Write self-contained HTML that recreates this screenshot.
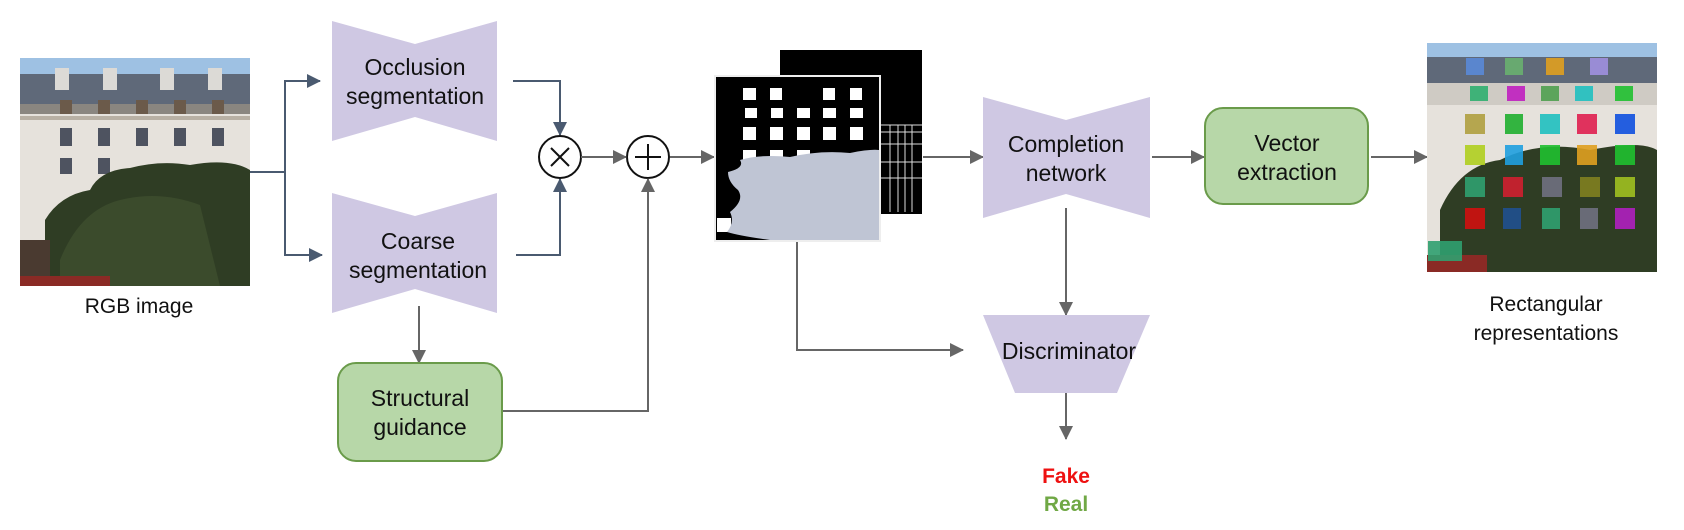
<!DOCTYPE html>
<html><head><meta charset="utf-8"><style>
html,body{margin:0;padding:0;background:#fff;}
svg{display:block;}
text{font-family:"Liberation Sans",Arial,sans-serif;}
</style></head><body>
<svg width="1684" height="530" viewBox="0 0 1684 530" xmlns="http://www.w3.org/2000/svg">
<defs>
<marker id="ab" markerWidth="14" markerHeight="14" refX="13" refY="7" orient="auto" markerUnits="userSpaceOnUse"><path d="M0,0 L14,7 L0,14 z" fill="#4a5a70"/></marker>
<marker id="ag" markerWidth="14" markerHeight="14" refX="13" refY="7" orient="auto" markerUnits="userSpaceOnUse"><path d="M0,0 L14,7 L0,14 z" fill="#666"/></marker>
</defs>

<!-- RGB image -->
<g>
<rect x="20" y="58" width="230" height="228" fill="#e6e2dc"/>
<rect x="20" y="58" width="230" height="18" fill="#9ec1e3"/>
<rect x="20" y="74" width="230" height="32" fill="#5f6979"/>
<g fill="#dcdad6"><rect x="55" y="68" width="14" height="22"/><rect x="103" y="68" width="14" height="22"/><rect x="160" y="68" width="14" height="22"/><rect x="208" y="68" width="14" height="22"/></g>
<rect x="20" y="104" width="230" height="10" fill="#8a8680"/>
<g fill="#6b5a4a"><rect x="60" y="100" width="12" height="14"/><rect x="98" y="100" width="12" height="14"/><rect x="136" y="100" width="12" height="14"/><rect x="174" y="100" width="12" height="14"/><rect x="212" y="100" width="12" height="14"/></g>
<rect x="20" y="116" width="230" height="4" fill="#b8b0a4"/>
<g fill="#4e5360"><rect x="60" y="128" width="12" height="18"/><rect x="98" y="128" width="12" height="18"/><rect x="136" y="128" width="12" height="18"/><rect x="174" y="128" width="12" height="18"/><rect x="212" y="128" width="12" height="18"/>
<rect x="60" y="158" width="12" height="16"/><rect x="98" y="158" width="12" height="16"/></g>
<path d="M45,286 L45,220 Q60,195 90,190 Q100,170 130,168 Q160,160 190,165 Q230,158 250,170 L250,286 Z" fill="#2f3d24"/>
<path d="M60,260 Q80,210 120,200 Q160,190 200,205 L220,286 L60,286Z" fill="#3b4b2c"/>
<rect x="20" y="240" width="30" height="46" fill="#4a3a30"/>
<rect x="20" y="276" width="90" height="10" fill="#8a2a25"/>
</g>
<text x="139" y="313" font-size="21" text-anchor="middle" fill="#111">RGB image</text>

<!-- connectors first stage -->
<g stroke="#4a5a70" stroke-width="2" fill="none">
<polyline points="250,172 285,172 285,81 320,81" marker-end="url(#ab)"/>
<polyline points="285,172 285,255 322,255" marker-end="url(#ab)"/>
<polyline points="513,81 560,81 560,135" marker-end="url(#ab)"/>
<polyline points="516,255 560,255 560,179" marker-end="url(#ab)"/>
</g>

<!-- bowties -->
<polygon points="332,21 415,44 497,21 497,141 415,117 332,141" fill="#cfc8e3"/>
<text x="415" y="75" font-size="23" text-anchor="middle" fill="#111">Occlusion</text>
<text x="415" y="104" font-size="23" text-anchor="middle" fill="#111">segmentation</text>
<polygon points="332,193 415,216 497,193 497,313 415,289 332,313" fill="#cfc8e3"/>
<text x="418" y="249" font-size="23" text-anchor="middle" fill="#111">Coarse</text>
<text x="418" y="278" font-size="23" text-anchor="middle" fill="#111">segmentation</text>

<!-- circles -->
<circle cx="560" cy="157" r="21" fill="#fff" stroke="#111" stroke-width="2"/>
<path d="M551,148 L569,166 M569,148 L551,166" stroke="#111" stroke-width="2"/>
<circle cx="648" cy="157" r="21" fill="#fff" stroke="#111" stroke-width="2"/>
<path d="M648,144 L648,170 M635,157 L661,157" stroke="#111" stroke-width="2"/>

<g stroke="#666" stroke-width="2" fill="none">
<line x1="581" y1="157" x2="626" y2="157" marker-end="url(#ag)"/>
<line x1="670" y1="157" x2="714" y2="157" marker-end="url(#ag)"/>
<line x1="419" y1="306" x2="419" y2="363" marker-end="url(#ag)"/>
<polyline points="502,411 648,411 648,179" marker-end="url(#ag)"/>
<polyline points="797,240 797,350 963,350" marker-end="url(#ag)"/>
<line x1="923" y1="157" x2="983" y2="157" marker-end="url(#ag)"/>
<line x1="1152" y1="157" x2="1204" y2="157" marker-end="url(#ag)"/>
<line x1="1371" y1="157" x2="1427" y2="157" marker-end="url(#ag)"/>
<line x1="1066" y1="208" x2="1066" y2="315" marker-end="url(#ag)"/>
<line x1="1066" y1="393" x2="1066" y2="439" marker-end="url(#ag)"/>
</g>

<!-- structural guidance -->
<rect x="338" y="363" width="164" height="98" rx="18" fill="#b7d7a8" stroke="#6a9b4a" stroke-width="2"/>
<text x="420" y="406" font-size="23" text-anchor="middle" fill="#111">Structural</text>
<text x="420" y="435" font-size="23" text-anchor="middle" fill="#111">guidance</text>

<!-- masks -->
<rect x="780" y="50" width="142" height="164" fill="#000"/>
<g stroke="#ddd" stroke-width="1">
<line x1="880" y1="125" x2="922" y2="125"/><line x1="880" y1="132" x2="922" y2="132"/><line x1="880" y1="144" x2="922" y2="144"/><line x1="880" y1="162" x2="922" y2="162"/><line x1="880" y1="178" x2="922" y2="178"/>
<line x1="890" y1="125" x2="890" y2="212"/><line x1="898" y1="125" x2="898" y2="212"/><line x1="905" y1="125" x2="905" y2="212"/><line x1="912" y1="125" x2="912" y2="212"/>
</g>
<rect x="715" y="76" width="165" height="165" fill="#000" stroke="#eee" stroke-width="2"/>
<g fill="#fff">
<rect x="743" y="88" width="13" height="12"/><rect x="770" y="88" width="12" height="12"/><rect x="823" y="88" width="12" height="12"/><rect x="850" y="88" width="12" height="12"/>
<rect x="745" y="108" width="12" height="10"/><rect x="771" y="108" width="12" height="10"/><rect x="797" y="108" width="13" height="10"/><rect x="823" y="108" width="13" height="10"/><rect x="850" y="108" width="13" height="10"/>
<rect x="743" y="127" width="13" height="13"/><rect x="770" y="127" width="13" height="13"/><rect x="797" y="127" width="13" height="13"/><rect x="823" y="127" width="13" height="13"/><rect x="850" y="127" width="13" height="13"/>
<rect x="743" y="150" width="13" height="10"/><rect x="770" y="150" width="13" height="10"/><rect x="797" y="150" width="13" height="10"/>
<rect x="717" y="218" width="14" height="14"/>
</g>
<path d="M740,160 Q760,154 790,157 Q820,150 850,153 Q870,149 879,150 L879,240 L770,240 Q740,236 727,232 Q735,222 730,212 Q745,200 738,190 Q728,182 728,172 Q745,168 740,160Z" fill="#bfc5d4"/>

<!-- completion -->
<polygon points="983,97 1066,120 1150,97 1150,218 1066,194 983,218" fill="#cfc8e3"/>
<text x="1066" y="152" font-size="23" text-anchor="middle" fill="#111">Completion</text>
<text x="1066" y="181" font-size="23" text-anchor="middle" fill="#111">network</text>

<!-- discriminator -->
<polygon points="983,315 1150,315 1117,393 1015,393" fill="#cfc8e3"/>
<text x="1069" y="359" font-size="23" text-anchor="middle" fill="#111">Discriminator</text>

<text x="1066" y="483" font-size="21" font-weight="bold" text-anchor="middle" fill="#ee1111">Fake</text>
<text x="1066" y="511" font-size="21" font-weight="bold" text-anchor="middle" fill="#70a845">Real</text>

<!-- vector extraction -->
<rect x="1205" y="108" width="163" height="96" rx="18" fill="#b7d7a8" stroke="#6a9b4a" stroke-width="2"/>
<text x="1287" y="151" font-size="23" text-anchor="middle" fill="#111">Vector</text>
<text x="1287" y="180" font-size="23" text-anchor="middle" fill="#111">extraction</text>

<!-- right image -->
<g>
<rect x="1427" y="43" width="230" height="229" fill="#e6e2dc"/>
<rect x="1427" y="43" width="230" height="16" fill="#9ec1e3"/>
<rect x="1427" y="57" width="230" height="26" fill="#5f6979"/>
<rect x="1427" y="83" width="230" height="22" fill="#cfcbc4"/>
<path d="M1440,272 L1440,210 Q1460,165 1500,160 Q1540,140 1590,150 Q1640,140 1657,150 L1657,272Z" fill="#2f3d24"/>
<rect x="1427" y="255" width="60" height="17" fill="#8a2a25"/>
<g opacity="0.9">
<rect x="1466" y="58" width="18" height="17" fill="#5a8ad8"/><rect x="1505" y="58" width="18" height="17" fill="#6ab070"/><rect x="1546" y="58" width="18" height="17" fill="#e0a020"/><rect x="1590" y="58" width="18" height="17" fill="#a090e0"/>
<rect x="1470" y="86" width="18" height="15" fill="#30b070"/><rect x="1507" y="86" width="18" height="15" fill="#c020c0"/><rect x="1541" y="86" width="18" height="15" fill="#50a050"/><rect x="1575" y="86" width="18" height="15" fill="#20c0c0"/><rect x="1615" y="86" width="18" height="15" fill="#20c030"/>
<rect x="1465" y="114" width="20" height="20" fill="#b0a040"/><rect x="1505" y="114" width="18" height="20" fill="#20b030"/><rect x="1540" y="114" width="20" height="20" fill="#20c0c0"/><rect x="1577" y="114" width="20" height="20" fill="#e02050"/><rect x="1615" y="114" width="20" height="20" fill="#1050e0"/>
<rect x="1465" y="145" width="20" height="20" fill="#b0d020"/><rect x="1505" y="145" width="18" height="20" fill="#20a0e0"/><rect x="1540" y="145" width="20" height="20" fill="#20c030"/><rect x="1577" y="145" width="20" height="20" fill="#e0a020"/><rect x="1615" y="145" width="20" height="20" fill="#20c030"/>
<rect x="1465" y="177" width="20" height="20" fill="#30a070"/><rect x="1503" y="177" width="20" height="20" fill="#d02030"/><rect x="1542" y="177" width="20" height="20" fill="#707080"/><rect x="1580" y="177" width="20" height="20" fill="#808020"/><rect x="1615" y="177" width="20" height="20" fill="#a0c020"/>
<rect x="1465" y="208" width="20" height="21" fill="#d01010"/><rect x="1503" y="208" width="18" height="21" fill="#205090"/><rect x="1542" y="208" width="18" height="21" fill="#30a070"/><rect x="1580" y="208" width="18" height="21" fill="#707080"/><rect x="1615" y="208" width="20" height="21" fill="#b020c0"/>
<rect x="1428" y="241" width="34" height="20" fill="#30a070"/>
</g>
</g>
<text x="1546" y="311" font-size="21" text-anchor="middle" fill="#111">Rectangular</text>
<text x="1546" y="340" font-size="21" text-anchor="middle" fill="#111">representations</text>
</svg>
</body></html>
